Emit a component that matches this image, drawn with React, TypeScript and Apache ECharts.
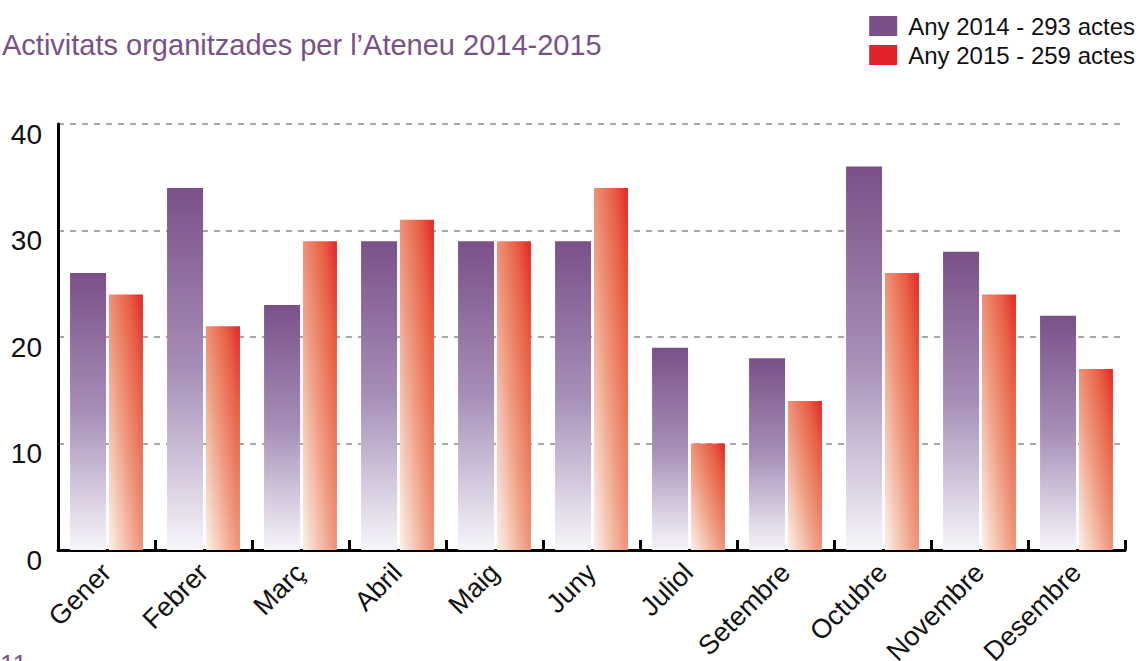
import React, { useEffect, useRef } from "react";
import * as echarts from "echarts";

const months = ["Gener", "Febrer", "Març", "Abril", "Maig", "Juny", "Juliol", "Setembre", "Octubre", "Novembre", "Desembre"];
const values2014 = [26, 34, 23, 29, 29, 29, 19, 18, 36, 28, 22];
const values2015 = [24, 21, 29, 31, 29, 34, 10, 14, 26, 24, 17];
const seriesNames = ["Any 2014 - 293 actes", "Any 2015 - 259 actes"];
const titleText = "Activitats organitzades per l\u2019Ateneu 2014-2015";

const FONT = "'Liberation Sans', Arial, Helvetica, sans-serif";

export default function App() {
  const ref = useRef<HTMLDivElement>(null);
  useEffect(() => {
    if (!ref.current) return;
    const chart = echarts.init(ref.current, undefined, { renderer: "svg" });
    const purpleGrad = new echarts.graphic.LinearGradient(0, 0, 0, 1, [
      { offset: 0, color: "#7a5089" },
      { offset: 0.5, color: "#a68fb7" },
      { offset: 1, color: "#f7f5fa" },
    ]);
    const redGrad = new echarts.graphic.LinearGradient(1, 0, 0, 1, [
      { offset: 0, color: "#e2262a" },
      { offset: 0.2, color: "#e85c42" },
      { offset: 0.55, color: "#ef9b80" },
      { offset: 1, color: "#fdf1ea" },
    ]);
    chart.setOption({
      animation: false,
      backgroundColor: "#ffffff",
      textStyle: { fontFamily: FONT },
      title: {
        text: titleText,
        left: -3,
        top: 25,
        textStyle: { color: "#7a5089", fontSize: 29, fontWeight: "normal", fontFamily: FONT },
      },
      legend: {
        orient: "vertical",
        right: 2,
        top: 9,
        itemWidth: 28,
        itemHeight: 20,
        itemGap: 5,
        icon: "rect",
        textStyle: { fontSize: 24, color: "#111", fontFamily: FONT, padding: [0, 0, 0, 6] },
        data: [
          { name: seriesNames[0], itemStyle: { color: "#7a5089" } },
          { name: seriesNames[1], itemStyle: { color: "#e3232b" } },
        ],
      },
      grid: { left: 58, right: 17, top: 124, bottom: 111, containLabel: false, outerBoundsMode: "none" },
      xAxis: {
        type: "category",
        data: months,
        axisLine: { show: true, lineStyle: { color: "#000", width: 3 } },
        axisTick: { show: true, inside: true, length: 10, lineStyle: { color: "#000", width: 3 } },
        axisLabel: {
          rotate: 45,
          margin: 18,
          fontSize: 27,
          color: "#111",
          fontFamily: FONT,
        },
        splitLine: { show: false },
      },
      yAxis: {
        type: "value",
        min: 0,
        max: 40,
        interval: 10,
        axisLine: { show: true, lineStyle: { color: "#000", width: 3 } },
        axisTick: { show: false },
        axisLabel: {
          fontSize: 28,
          color: "#111",
          margin: 16,
          fontFamily: FONT,
          verticalAlign: "top",
          lineHeight: 20,
        },
        splitLine: { show: true, lineStyle: { color: "#8a8a8a", width: 1.5, type: [6, 6] } },
      },
      series: [
        {
          name: seriesNames[0],
          type: "bar",
          data: values2014,
          barWidth: 36,
          barGap: "8%",
          itemStyle: { color: purpleGrad },
        },
        {
          name: seriesNames[1],
          type: "bar",
          data: values2015,
          barWidth: 34,
          itemStyle: { color: redGrad },
        },
      ],
      graphic: [
        {
          type: "text",
          left: 0,
          top: 651,
          style: { text: "11", fontSize: 26, fill: "#7a5089", fontFamily: FONT },
        },
      ],
    });
    return () => chart.dispose();
  }, []);
  return (
    <div
      ref={ref}
      style={{ position: "fixed", left: 0, top: 0, width: 1142, height: 661 }}
    />
  );
}
